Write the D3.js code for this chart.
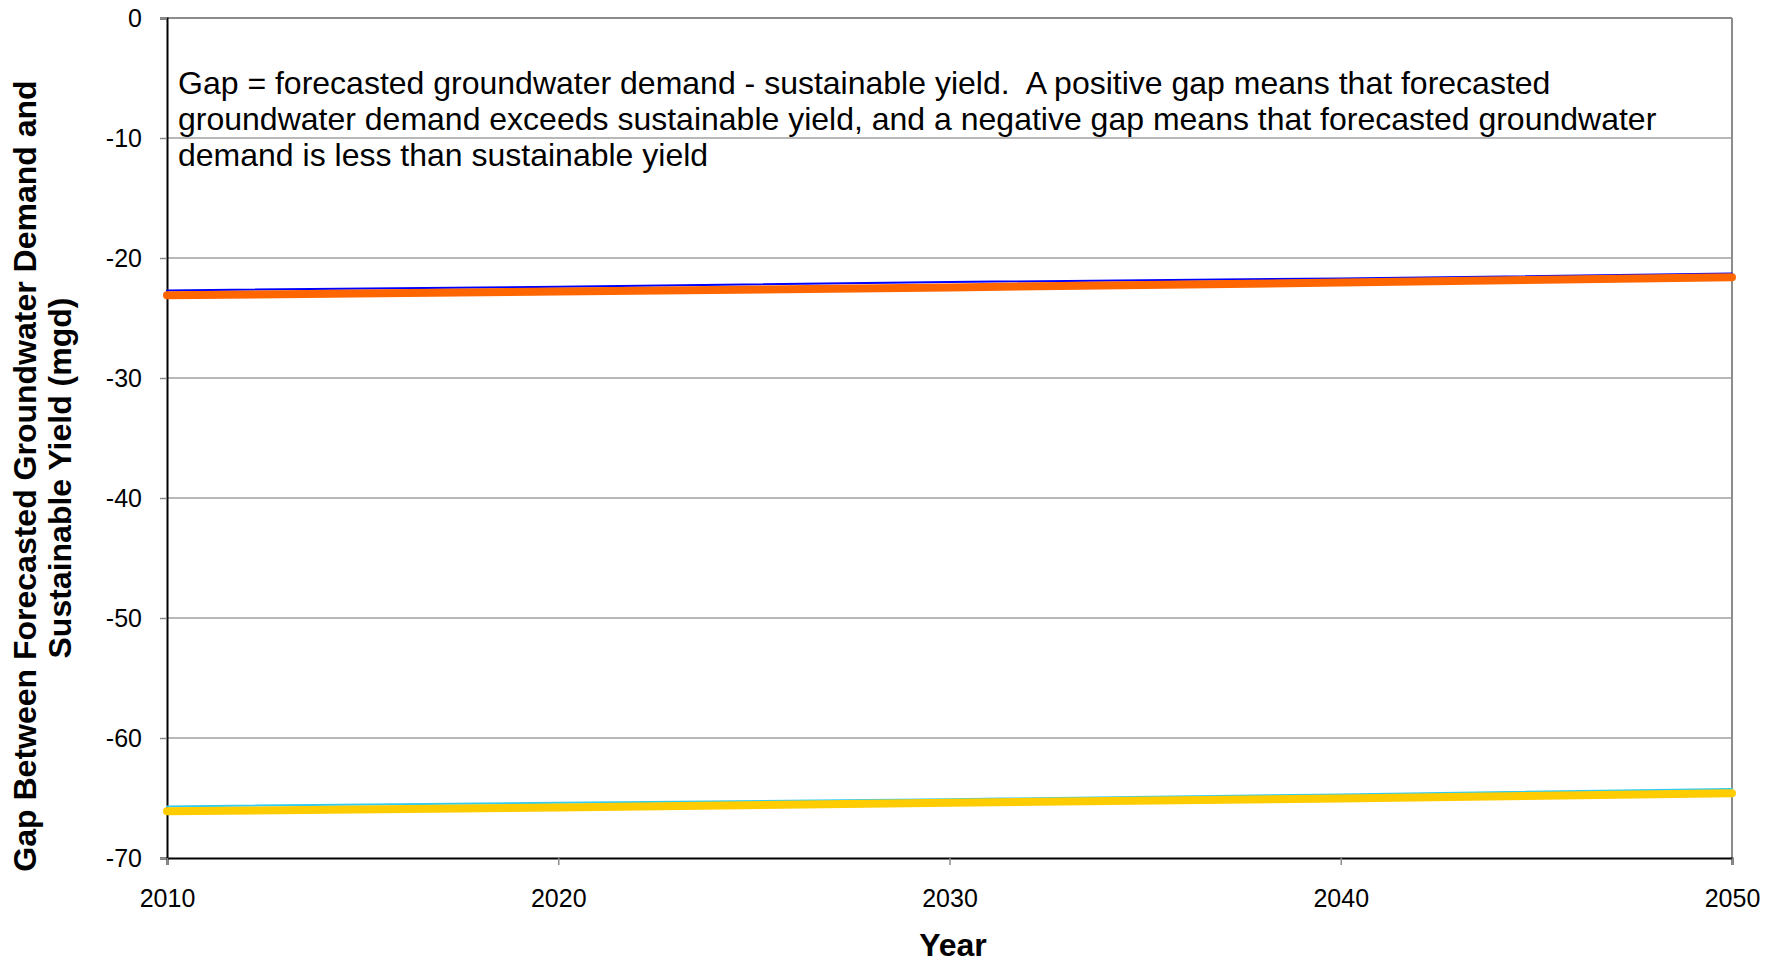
<meta charset="utf-8">
<script src="https://d3js.org/d3.v7.min.js"></script>
<style>
  body { margin: 0; background: #fff; }
  svg { font-family: "Liberation Sans", Arial, sans-serif; }
</style>
<svg id="chart" width="1784" height="963"></svg>
<script>
// chart values
const years = [2010, 2020, 2030, 2040, 2050];
const blueGap = [-22.7, -22.4, -22.0, -21.7, -21.3];
const orangeGap = [-23.1, -22.8, -22.45, -22.05, -21.6];
const cyanGap = [-65.7, -65.4, -65.1, -64.7, -64.25];
const yellowGap = [-66.1, -65.8, -65.4, -65.05, -64.6];
const yTicks = [0, -10, -20, -30, -40, -50, -60, -70];
const xTicks = [2010, 2020, 2030, 2040, 2050];
const note = [
  "Gap = forecasted groundwater demand - sustainable yield.  A positive gap means that forecasted",
  "groundwater demand exceeds sustainable yield, and a negative gap means that forecasted groundwater",
  "demand is less than sustainable yield"
];

const series = [
  {values: blueGap, color: "#0000ff", width: 2},
  {values: orangeGap, color: "#ff6600", width: 8},
  {values: cyanGap, color: "#33ccee", width: 2},
  {values: yellowGap, color: "#ffcc00", width: 8}
];

var margin = {top: 18, right: 52, bottom: 105, left: 167};
var width = 1784 - margin.left - margin.right,
    height = 963 - margin.top - margin.bottom;

var svg = d3.select("#chart");
var chart = svg.append("g")
  .attr("transform", "translate(" + margin.left + "," + margin.top + ")");

var x = d3.scaleLinear().domain([2010, 2050]).range([0, width]);
var y = d3.scaleLinear().domain([-70, 0]).range([height, 0]);

// gridlines
chart.selectAll(".grid")
  .data(yTicks.filter(d => d != -70 && d != 0))
  .enter()
  .append("line")
    .attr("x1", 0).attr("x2", width)
    .attr("y1", d => y(d)).attr("y2", d => y(d))
    .style("stroke", "#a0a0a0")
    .style("stroke-width", 1.5);

// top and right frame
chart.append("line")
  .attr("x1", 0).attr("x2", width).attr("y1", 0).attr("y2", 0)
  .style("stroke", "#8c8c8c").style("stroke-width", 2);
chart.append("line")
  .attr("x1", width).attr("x2", width).attr("y1", 0).attr("y2", height)
  .style("stroke", "#8c8c8c").style("stroke-width", 2);

// axes
var yAxis = chart.append("g")
  .call(d3.axisLeft(y).tickValues(yTicks).tickSize(7).tickPadding(18).tickFormat(d => String(d)));
var xAxis = chart.append("g")
  .attr("transform", "translate(0," + height + ")")
  .call(d3.axisBottom(x).tickValues(xTicks).tickSize(7).tickPadding(24).tickFormat(d => String(d)));

[yAxis, xAxis].forEach(function(a) {
  a.select(".domain").style("stroke", "#000").style("stroke-width", 2);
  a.selectAll(".tick line").style("stroke", "#8c8c8c").style("stroke-width", 1.5);
  a.selectAll(".tick text")
    .style("font-size", "25px")
    .style("fill", "#000")
    .style("font-family", "Liberation Sans, Arial, sans-serif");
});

// series lines
var line = d3.line()
  .x((d, i) => x(years[i]))
  .y(d => y(d));

chart.selectAll(".series")
  .data(series)
  .enter()
  .append("path")
    .attr("d", d => line(d.values))
    .style("fill", "none")
    .style("stroke", d => d.color)
    .style("stroke-width", d => d.width)
    .style("stroke-linecap", "round");

// annotation
chart.append("text")
  .attr("x", 11)
  .attr("y", 76)
  .attr("xml:space", "preserve")
  .style("white-space", "pre")
  .style("font-size", "32px")
  .style("fill", "#000")
  .selectAll("tspan")
  .data(note)
  .enter()
  .append("tspan")
    .attr("x", 11)
    .attr("dy", (d, i) => i == 0 ? 0 : 36)
    .text(d => d);

// axis titles
svg.append("text")
  .attr("transform", "translate(36,476) rotate(-90)")
  .attr("text-anchor", "middle")
  .style("font-size", "32px")
  .style("font-weight", "bold")
  .text("Gap Between Forecasted Groundwater Demand and");
svg.append("text")
  .attr("transform", "translate(71,478) rotate(-90)")
  .attr("text-anchor", "middle")
  .style("font-size", "32px")
  .style("font-weight", "bold")
  .text("Sustainable Yield (mgd)");

svg.append("text")
  .attr("x", 953)
  .attr("y", 956)
  .attr("text-anchor", "middle")
  .style("font-size", "32px")
  .style("font-weight", "bold")
  .text("Year");
</script>
